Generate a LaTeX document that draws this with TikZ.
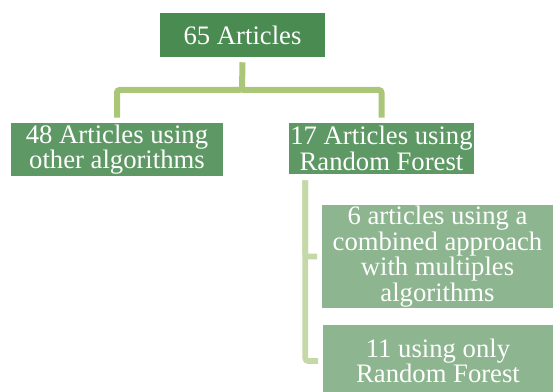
\documentclass[tikz,border=0pt]{standalone}
\usepackage{fontspec}
\setmainfont{Liberation Serif}
\usepackage{tikz}
\definecolor{topgreen}{RGB}{74,139,82}
\definecolor{midgreen}{RGB}{94,152,100}
\definecolor{lowgreen}{RGB}{141,181,143}
\definecolor{trunkline}{RGB}{170,198,120}
\definecolor{stemline}{RGB}{197,216,168}

\begin{document}
\begin{tikzpicture}[x=0.75pt,y=-0.75pt,
                    font=\fontsize{20}{17}\selectfont]
  \tikzstyle{box}=[inner sep=0pt,align=center,text=white]
  \tikzstyle{trunk}=[draw=trunkline,line width=4.5pt,rounded corners=2pt]
  \tikzstyle{stem}=[draw=stemline,line width=4.2pt,rounded corners=2pt]

  \useasboundingbox (0,0) rectangle (553,392);

  \node[box,fill=topgreen,minimum width=123.75pt,minimum height=33pt]
        (all)   at (242.5,35)    {65 Articles};
  \node[box,fill=midgreen,minimum width=159pt,minimum height=39.75pt]
        (other) at (117,149.5)   {48 Articles using\\other algorithms};
  \node[box,fill=midgreen,minimum width=138.75pt,minimum height=38.25pt]
        (rf)    at (381.5,148.5) {17 Articles using\\Random Forest};
  \node[box,fill=lowgreen,minimum width=173.25pt,minimum height=77.25pt]
        (comb)  at (437.5,256.5) {6 articles using a\\combined approach\\with multiples\\algorithms};
  \node[box,fill=lowgreen,minimum width=172.5pt,minimum height=54pt]
        (only)  at (438,361)     {11 using only\\Random Forest};

  \coordinate (fork) at (242,90);
  \coordinate (base) at ([xshift=12.4pt,yshift=-4.5pt]rf.south west);

  \draw[trunk] ([yshift=-3.75pt]all.south) -- (fork) -| ([yshift=3.75pt]other.north);
  \draw[trunk] (fork) -| ([yshift=3.75pt]rf.north);

  \draw[stem] (base) |- ([xshift=-3.5pt]only.west);
  \draw[stem] (base) |- ([xshift=-3.5pt]comb.west);
\end{tikzpicture}
\end{document}
